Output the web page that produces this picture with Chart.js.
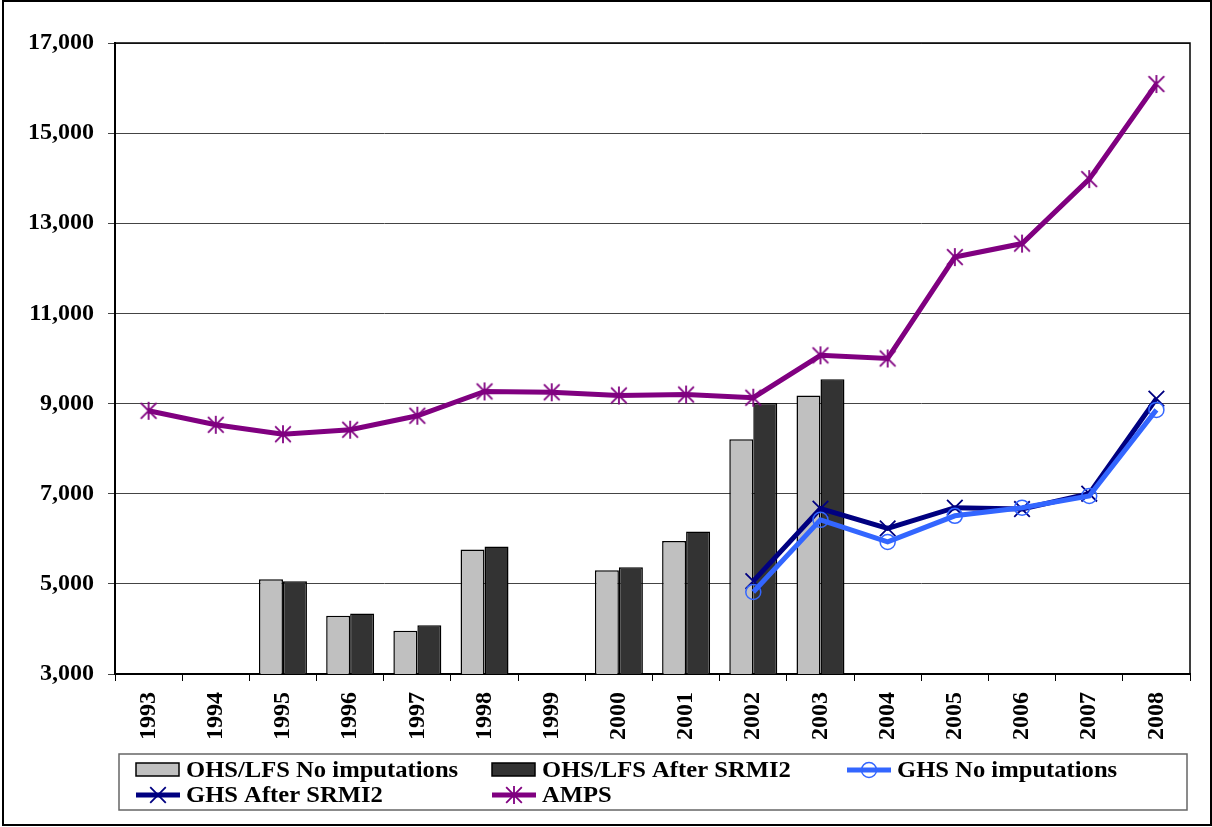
<!DOCTYPE html>
<html>
<head>
<meta charset="utf-8">
<title>Income series 1993-2008</title>
<script src="https://cdn.jsdelivr.net/npm/chart.js@4.4.1/dist/chart.umd.min.js"></script>
<style>
  html, body { margin: 0; padding: 0; background: #fff; }
  #wrap { width: 1212px; height: 827px; position: relative; }
</style>
</head>
<body>
<div id="wrap"><canvas id="chart" width="1212" height="827"></canvas></div>
<script>
/* data */

var years = ['1993', '1994', '1995', '1996', '1997', '1998', '1999', '2000',
             '2001', '2002', '2003', '2004', '2005', '2006', '2007', '2008'];

var ohsNoImp    = [null, null, 5100, 4290, 3960, 5760, null, 5300, 5950, 8210, 9180, null, null, null, null, null];
var ohsSrmi     = [null, null, 5060, 4340, 4080, 5830, null, 5370, 6160, 9010, 9540, null, null, null, null, null];
var ghsNoImp    = [null, null, null, null, null, null, null, null, null, 4820, 6420, 5930, 6510, 6690, 6950, 8860];
var ghsSrmi     = [null, null, null, null, null, null, null, null, null, 5060, 6670, 6230, 6690, 6660, 7000, 9110];
var amps        = [8840, 8530, 8320, 8420, 8730, 9270, 9250, 9180, 9200, 9130, 10070, 10000, 12250, 12550, 13980, 16090];

var yTicks = { min: 3000, max: 17000, step: 2000 };

var fontFamily = "'Liberation Serif', 'Times New Roman', serif";

/* asterisk marker: a vertical stroke with an X through it */
function makeAsterisk(color, size) {
  var c = document.createElement('canvas');
  c.width = size;
  c.height = size;
  var ctx = c.getContext('2d');
  var h = size / 2;
  var r = h - 1;
  ctx.strokeStyle = color;
  ctx.lineWidth = 1.8;
  ctx.beginPath();
  ctx.moveTo(h, h - r); ctx.lineTo(h, h + r);
  ctx.moveTo(h - r * 0.87, h - r * 0.87); ctx.lineTo(h + r * 0.87, h + r * 0.87);
  ctx.moveTo(h - r * 0.87, h + r * 0.87); ctx.lineTo(h + r * 0.87, h - r * 0.87);
  ctx.stroke();
  return c;
}

var ampsMarker = makeAsterisk('#800080', 20);

/* frame round the plot and round the whole picture */
var framePlugin = {
  id: 'frame',
  beforeDatasetsDraw: function(chart) {
    var ctx = chart.ctx, a = chart.chartArea;
    ctx.save();
    ctx.strokeStyle = '#000';
    ctx.lineWidth = 1.5;
    ctx.beginPath();
    ctx.moveTo(a.left, a.top);
    ctx.lineTo(a.right, a.top);
    ctx.lineTo(a.right, a.bottom);
    ctx.stroke();
    ctx.restore();
  },
  afterDraw: function(chart) {
    var ctx = chart.ctx;
    ctx.save();
    ctx.strokeStyle = '#000';
    ctx.lineWidth = 2;
    ctx.strokeRect(3, 1, 1208, 824);
    ctx.restore();
  }
};

function drawMarker(ctx, ds, x, y) {
  var r = ds.pointRadius;
  if (typeof ds.pointStyle === 'object') {
    ctx.drawImage(ds.pointStyle, x - ds.pointStyle.width / 2, y - ds.pointStyle.height / 2);
    return;
  }
  ctx.strokeStyle = ds.pointBorderColor;
  ctx.lineWidth = ds.pointBorderWidth;
  ctx.beginPath();
  if (ds.pointStyle === 'circle') {
    ctx.arc(x, y, r, 0, Math.PI * 2);
  } else if (ds.pointStyle === 'crossRot') {
    var o = r * 0.707;
    ctx.moveTo(x - o, y - o); ctx.lineTo(x + o, y + o);
    ctx.moveTo(x - o, y + o); ctx.lineTo(x + o, y - o);
  }
  ctx.stroke();
}

/* boxed legend, three columns */
var legendPlugin = {
  id: 'boxLegend',
  afterDraw: function(chart) {
    var ctx = chart.ctx;
    var box = { x: 119, y: 754, w: 1068, h: 56 };
    var colX = [136, 492, 847];
    var rowY = [770, 795];

    ctx.save();
    ctx.strokeStyle = '#666';
    ctx.lineWidth = 1.5;
    ctx.strokeRect(box.x, box.y, box.w, box.h);

    var sets = chart.data.datasets;
    for (var i = 0; i < sets.length; i++) {
      var ds = sets[i];
      var x = colX[i % 3];
      var y = rowY[Math.floor(i / 3)];
      if (ds.type === 'bar') {
        ctx.fillStyle = ds.backgroundColor;
        ctx.fillRect(x, y - 7, 43, 13);
        ctx.strokeStyle = '#000';
        ctx.lineWidth = 1.5;
        ctx.strokeRect(x, y - 7, 43, 13);
      } else {
        ctx.strokeStyle = ds.borderColor;
        ctx.lineWidth = ds.borderWidth;
        ctx.beginPath();
        ctx.moveTo(x, y);
        ctx.lineTo(x + 44, y);
        ctx.stroke();
        drawMarker(ctx, ds, x + 22, y);
      }
      // text is drawn a touch wider than the font's own width
      ctx.save();
      ctx.translate(x + 50, y + 1);
      ctx.scale(1.07, 1);
      ctx.font = 'bold 23px ' + fontFamily;
      ctx.fillStyle = '#000';
      ctx.textBaseline = 'middle';
      ctx.textAlign = 'left';
      ctx.fillText(ds.label, 0, 0);
      ctx.restore();
    }
    ctx.restore();
  }
};

var chart = new Chart(document.getElementById('chart'), {
  data: {
    labels: years,
    datasets: [
      { type: 'bar', label: 'OHS/LFS No imputations', data: ohsNoImp,
        backgroundColor: '#C0C0C0', borderColor: '#000', borderWidth: 1.5, order: 4 },
      { type: 'bar', label: 'OHS/LFS After SRMI2', data: ohsSrmi,
        backgroundColor: '#333333', borderColor: '#000', borderWidth: 1.5, order: 5 },
      { type: 'line', label: 'GHS No imputations', data: ghsNoImp,
        borderColor: '#3366FF', borderWidth: 5, pointStyle: 'circle', pointRadius: 7.5,
        pointBorderColor: '#3366FF', pointBackgroundColor: 'rgba(0,0,0,0)', pointBorderWidth: 1.5,
        tension: 0, order: 1 },
      { type: 'line', label: 'GHS After SRMI2', data: ghsSrmi,
        borderColor: '#000080', borderWidth: 5, pointStyle: 'crossRot', pointRadius: 11,
        pointBorderColor: '#000080', pointBackgroundColor: '#000080', pointBorderWidth: 1.8,
        tension: 0, order: 2 },
      { type: 'line', label: 'AMPS', data: amps,
        borderColor: '#800080', borderWidth: 5, pointStyle: ampsMarker, pointRadius: 9,
        pointBorderColor: '#800080', pointBorderWidth: 1.5,
        tension: 0, order: 0 }
    ]
  },
  options: {
    responsive: false,
    animation: false,
    devicePixelRatio: 1,
    layout: { padding: { top: 43, right: 22, bottom: 0, left: 0 } },
    plugins: {
      legend: { display: false },
      tooltip: { enabled: false }
    },
    datasets: {
      bar: { categoryPercentage: 0.714, barPercentage: 1.0 }
    },
    scales: {
      x: {
        type: 'category',
        offset: true,
        grid: { offset: true, drawOnChartArea: false, drawTicks: true, tickLength: 7, color: '#000', lineWidth: 1 },
        border: { color: '#000', width: 2 },
        ticks: {
          color: '#000',
          font: { family: fontFamily, size: 24, weight: 'bold' },
          minRotation: 90, maxRotation: 90, padding: 11, autoSkip: false
        },
        afterFit: function(scale) { scale.height = 153; }
      },
      y: {
        min: yTicks.min,
        max: yTicks.max,
        grid: { color: '#444', lineWidth: 1, tickLength: 7 },
        border: { color: '#000', width: 2 },
        ticks: {
          stepSize: yTicks.step,
          color: '#000',
          padding: 14,
          font: { family: fontFamily, size: 24, weight: 'bold' },
          callback: function(v) { return v.toLocaleString('en-US'); }
        },
        afterFit: function(scale) { scale.width = 115; }
      }
    }
  },
  plugins: [framePlugin, legendPlugin]
});
</script>
</body>
</html>
